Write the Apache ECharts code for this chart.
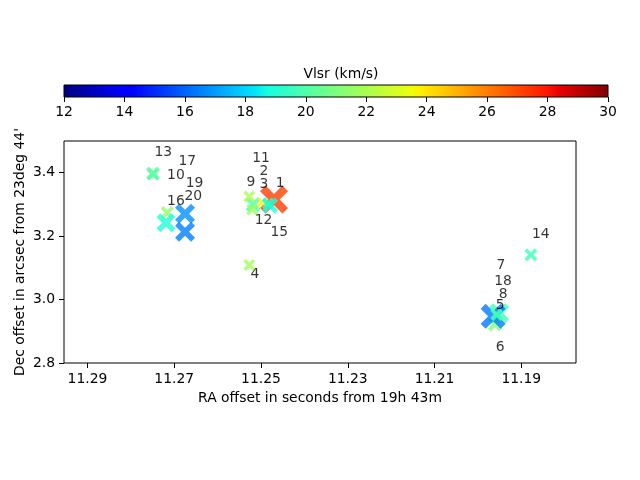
<!DOCTYPE html>
<html>
<head>
<meta charset="utf-8">
<script src="https://cdn.jsdelivr.net/npm/echarts@6/dist/echarts.min.js"></script>
<style>
    html, body { margin: 0; padding: 0; background: #fff; }
    #main { width: 640px; height: 480px; }
</style>
</head>
<body>
<div id="main"></div>
<script>
// source numbers 1..20
var ids = [1,2,3,4,5,6,7,8,9,10,11,12,13,14,15,16,17,18,19,20];
// RA offset (s), Dec offset (arcsec), Vlsr (km/s), relative flux
var ra = [11.2470,11.2518,11.2497,11.2527,11.1951,11.1961,11.1965,11.1956,11.2527,11.2749,
          11.2484,11.2520,11.2749,11.1878,11.2479,11.2716,11.2719,11.1958,11.2675,11.2675];
var dec = [3.3154,3.2995,3.3059,3.1093,2.9572,2.9223,2.9477,2.9509,3.3249,3.3950,
           3.3027,3.2837,3.3978,3.1410,3.2964,3.2742,3.2425,2.9540,3.2710,3.2139];
var vlsr = [27.2,20.0,23.7,21.8,19.7,21.1,16.4,19.5,22.0,20.2,
            19.3,21.8,20.2,19.7,19.0,21.4,19.0,19.8,16.8,16.5];
var flux = [2.8,1.5,1.0,1.2,2.0,1.4,2.5,1.2,1.2,1.2,
            1.2,1.2,1.4,1.3,1.6,1.3,1.9,1.2,2.0,2.0];
// where the numbers are written
var labelRA = [11.2456,11.2493,11.2493,11.2514,11.1949,11.1949,11.1947,11.1942,11.2523,11.2696,
               11.2500,11.2494,11.2725,11.1855,11.2458,11.2696,11.2670,11.1942,11.2653,11.2656];
var labelDec = [3.3661,3.4032,3.3639,3.0808,2.9826,2.8504,3.1093,3.0174,3.3683,3.3914,
                3.4453,3.2498,3.4634,3.2044,3.2117,3.3100,3.4349,3.0586,3.3661,3.3239];

var xTicks = [11.29,11.27,11.25,11.23,11.21,11.19];
var yTicks = [2.8,3.0,3.2,3.4];
var cbMin = 12, cbMax = 30;

// matplotlib jet
function seg(t, pts){
    for(let i=1;i<pts.length;i++){
        if(t<=pts[i][0]){
            let f=(t-pts[i-1][0])/(pts[i][0]-pts[i-1][0]);
            return pts[i-1][1]+f*(pts[i][1]-pts[i-1][1]);
        }
    }
    return pts[pts.length-1][1];
}
function jet(t){
    let r=seg(t,[[0,0],[0.35,0],[0.66,1],[0.89,1],[1,0.5]]);
    let g=seg(t,[[0,0],[0.125,0],[0.375,1],[0.64,1],[0.91,0],[1,0]]);
    let b=seg(t,[[0,0.5],[0.11,1],[0.34,1],[0.65,0],[1,0]]);
    return 'rgb('+Math.round(r*255)+','+Math.round(g*255)+','+Math.round(b*255)+')';
}
let jetColors=[];
for(let i=0;i<=72;i++){ jetColors.push(jet(i/72)); }
let jetStops=[0,0.11,0.125,0.34,0.35,0.375,0.64,0.65,0.66,0.89,0.91,1].map(function(t){
    return {offset:t,color:jet(t)};
});

let points=[];
let labels=[];
for(let i=0;i<ids.length;i++){
    points.push([ra[i],dec[i],vlsr[i],flux[i]]);
    labels.push([labelRA[i],labelDec[i],ids[i]]);
}

const XPATH='path://M0,2 L2,0 L5,3 L8,0 L10,2 L7,5 L10,8 L8,10 L5,7 L2,10 L0,8 L3,5 Z';
const FONT='DejaVu Sans';
const FS=13.9;

echarts.init(document.getElementById('main')).setOption({
    animation:false,
    textStyle:{fontFamily:FONT,color:'#000'},
    title:{
        text:'Vlsr (km/s)',
        left:336,
        top:62,
        textAlign:'center',
        textStyle:{fontFamily:FONT,fontSize:FS,fontWeight:'normal',color:'#000'}
    },
    grid:[
        {left:64,right:64,top:141,bottom:117,show:true,borderColor:'#000',borderWidth:1},
        {left:64,right:32,top:85,height:12,show:false}
    ],
    xAxis:[
        {
            type:'value',
            gridIndex:0,
            inverse:true,
            min:11.1774,
            max:11.2954,
            name:'RA offset in seconds from 19h 43m',
            nameLocation:'middle',
            nameGap:28,
            nameMoveOverlap:false,
            nameTextStyle:{fontSize:FS,color:'#000'},
            axisLine:{show:false},
            splitLine:{show:false},
            axisTick:{show:true,length:5,lineStyle:{color:'#000'},customValues:xTicks},
            axisLabel:{fontSize:FS,color:'#000',margin:9,customValues:xTicks,
                formatter:function(v){return v.toFixed(2);}}
        },
        {
            type:'value',
            gridIndex:1,
            min:cbMin,
            max:cbMax,
            interval:2,
            axisLine:{show:false},
            splitLine:{show:false},
            axisTick:{show:true,length:5,lineStyle:{color:'#000'}},
            axisLabel:{fontSize:FS,color:'#000',margin:8}
        }
    ],
    yAxis:[
        {
            type:'value',
            gridIndex:0,
            min:2.8,
            max:3.5,
            name:"Dec offset in arcsec from 23deg 44'",
            nameLocation:'middle',
            nameGap:37,
            nameMoveOverlap:false,
            nameTextStyle:{fontSize:FS,color:'#000'},
            axisLine:{show:false},
            splitLine:{show:false},
            axisTick:{show:true,length:5,lineStyle:{color:'#000'},customValues:yTicks},
            axisLabel:{fontSize:FS,color:'#000',margin:9,customValues:yTicks,
                formatter:function(v){return v.toFixed(1);}}
        },
        {type:'value',gridIndex:1,min:0,max:1,show:false}
    ],
    visualMap:{
        show:false,
        type:'continuous',
        seriesIndex:0,
        dimension:2,
        min:cbMin,
        max:cbMax,
        inRange:{color:jetColors}
    },
    series:[
        {
            type:'scatter',
            xAxisIndex:0,
            yAxisIndex:0,
            symbol:XPATH,
            symbolSize:function(v){return v[3]*10;},
            data:points
        },
        {
            type:'scatter',
            xAxisIndex:0,
            yAxisIndex:0,
            symbolSize:0,
            silent:true,
            label:{
                show:true,
                position:'inside',
                fontSize:FS,
                color:'#000',
                formatter:function(p){return String(p.value[2]);}
            },
            data:labels
        },
        {
            type:'custom',
            xAxisIndex:1,
            yAxisIndex:1,
            silent:true,
            data:[[cbMin,cbMax]],
            renderItem:function(params,api){
                let p0=api.coord([api.value(0),0]);
                let p1=api.coord([api.value(1),1]);
                return {
                    type:'rect',
                    shape:{x:p0[0],y:p1[1],width:p1[0]-p0[0],height:p0[1]-p1[1]},
                    style:{
                        fill:new echarts.graphic.LinearGradient(0,0,1,0,jetStops),
                        stroke:'#000',
                        lineWidth:1
                    }
                };
            }
        }
    ]
});
</script>
</body>
</html>
